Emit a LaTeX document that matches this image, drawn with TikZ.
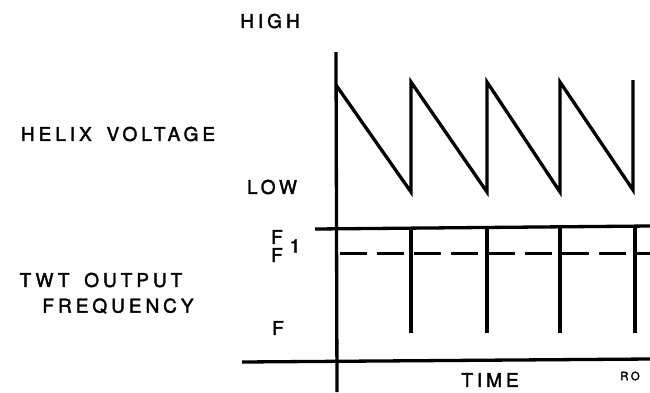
\documentclass[tikz,border=0pt]{standalone}
\usepackage{fontspec}
\newfontfamily\lettering[LetterSpace=21, FakeBold=2, WordSpace=1.6]{TeX Gyre Heros}
\usetikzlibrary{positioning}

\begin{document}
\begin{tikzpicture}[
        x=1pt, y=-1pt,
        every node/.style={inner sep=0pt, font=\lettering\fontsize{19}{22}\selectfont},
        trace/.style={line width=3.3pt, line join=miter},
    ]
        \useasboundingbox (0,0) rectangle (650,392);
        % Labels
        \node (high) at (270,21) {HIGH};
        \node (low) at (272,187) {LOW};
        \node (helix) at (118,134) {HELIX VOLTAGE};
        \node (twt) at (101,280) {TWT OUTPUT};
        \node (freq) at (118,306) {FREQUENCY};
        \node (fone) at (277,237) {F};
        \node (one) at (295,246) {1};
        \node (fzero) at (277,255) {F};
        \node (flow) at (278,328) {F};
        \node (time) at (490,380) {TIME};
        \node[font=\lettering\fontsize{11.5}{13}\selectfont] (ro) at (630,376) {RO};

        % Axes
        \coordinate (vtop) at (336,52);
        \coordinate (vbot) at (337,392);
        \coordinate (tleft) at (242,362);
        \coordinate (tright) at (650,359);
        \coordinate (fleft) at (315,229);
        \coordinate (fright) at (650,226);
        \draw[trace] (vtop) -- (vbot);
        \draw[trace] (tleft) -- (tright);
        \draw[trace] (fleft) -- (fright);
        \draw[trace, line width=3pt, dash pattern=on 27pt off 10pt] (340,253.5) -- (650,253.5);

        % Helix sweep
        \draw[trace] (336,85)
            -- (411,192) -- (411,82)
            -- (487,192) -- (487,82)
            -- (560,192) -- (560,82)
            -- (633,190) -- (633,80);

        % Frequency spikes
        \foreach \t in {411,487,560,635}
            \draw[trace] (\t,228) -- (\t,333);

    \end{tikzpicture}
\end{document}
